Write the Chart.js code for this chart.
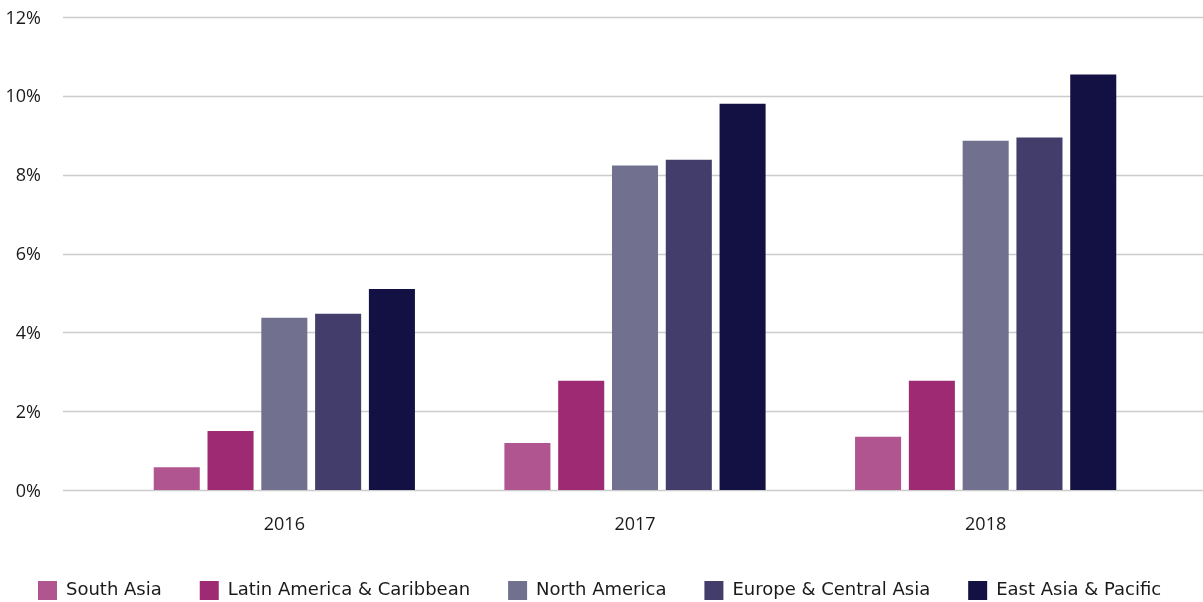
<!DOCTYPE html>
<html>
<head>
<meta charset="utf-8">
<script src="https://cdn.jsdelivr.net/npm/chart.js@4/dist/chart.umd.min.js"></script>
<style>
  html, body { margin: 0; padding: 0; background: #ffffff; }
  #wrap { width: 1203px; height: 602px; position: relative; }
</style>
</head>
<body>
<div id="wrap"><canvas id="c" width="1203" height="602"></canvas></div>
<script>
const categories = ['2016', '2017', '2018'];
const seriesNames = ['South Asia', 'Latin America & Caribbean', 'North America', 'Europe & Central Asia', 'East Asia & Pacific'];
const southAsia = [0.58, 1.19, 1.35];
const latinAmerica = [1.50, 2.77, 2.77];
const northAmerica = [4.37, 8.23, 8.86];
const europeCentralAsia = [4.47, 8.38, 8.94];
const eastAsiaPacific = [5.10, 9.80, 10.54];
const yTicks = [0, 2, 4, 6, 8, 10, 12];
const seriesColors = ['#b0558f', '#9e2a73', '#71708f', '#423d6a', '#131043'];

const AXFONT = '"Open Sans", sans-serif';
const LGFONT = '"DejaVu Sans", sans-serif';
const TEXT = '#1a1a1a';

const seriesValues = [southAsia, latinAmerica, northAmerica, europeCentralAsia, eastAsiaPacific];

const gridPlugin = {
  id: 'extGrid',
  beforeDatasetsDraw(chart) {
    const ctx = chart.ctx;
    const y = chart.scales.y;
    ctx.save();
    ctx.strokeStyle = '#cccccc';
    ctx.lineWidth = 1.3;
    y.ticks.forEach(t => {
      const py = Math.round(y.getPixelForValue(t.value)) + 0.5;
      ctx.beginPath();
      ctx.moveTo(63, py);
      ctx.lineTo(chart.width, py);
      ctx.stroke();
    });
    ctx.restore();
  }
};

new Chart(document.getElementById('c'), {
  type: 'bar',
  data: {
    labels: categories,
    datasets: seriesNames.map((name, i) => ({
      label: name,
      data: seriesValues[i],
      backgroundColor: seriesColors[i],
      borderWidth: 0,
      barPercentage: 0.856,
      categoryPercentage: 0.767
    }))
  },
  options: {
    responsive: false,
    animation: false,
    devicePixelRatio: 1,
    layout: { padding: { top: 17, right: 0, bottom: -8, left: 0 } },
    plugins: {
      tooltip: { enabled: false },
      legend: {
        position: 'bottom',
        align: 'start',
        labels: {
          color: TEXT,
          font: { family: LGFONT, size: 18 },
          boxWidth: 19,
          boxHeight: 19,
          padding: 38
        }
      }
    },
    scales: {
      x: {
        afterFit(scale) { scale.height = 53; },
        grid: { display: false, drawTicks: false },
        border: { display: false },
        ticks: { color: TEXT, font: { family: AXFONT, size: 18 }, padding: 24 }
      },
      y: {
        min: 0,
        max: 12,
        afterBuildTicks(scale) { scale.ticks = yTicks.map(v => ({ value: v })); },
        afterFit(scale) { scale.width = 109; scale.paddingTop = 0; scale.paddingBottom = 0; },
        grid: { display: false, drawTicks: false },
        border: { display: false },
        ticks: {
          color: TEXT,
          font: { family: AXFONT, size: 18 },
          padding: 68,
          labelOffset: 1.5,
          callback: v => v + '%'
        }
      },
      yRight: {
        position: 'right',
        display: true,
        afterFit(scale) { scale.width = 42; scale.paddingTop = 0; scale.paddingBottom = 0; },
        grid: { display: false, drawTicks: false },
        border: { display: false },
        ticks: { display: false }
      }
    }
  },
  plugins: [gridPlugin]
});
</script>
</body>
</html>
